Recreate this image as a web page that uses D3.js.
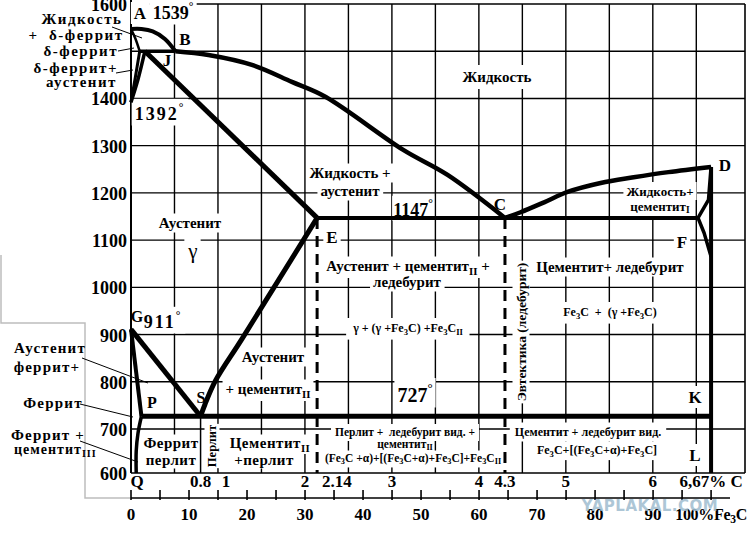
<!DOCTYPE html>
<html>
<head>
<meta charset="utf-8">
<script src="https://cdn.jsdelivr.net/npm/d3@7"></script>
<style>
  body { margin: 0; background: #fff; }
  svg { display: block; font-family: "Liberation Serif", "Times New Roman", serif; font-weight: bold; }
  text { white-space: pre; }
</style>
</head>
<body>
<svg id="graf" width="751" height="535"></svg>
<script>
// ---- Datos del diagrama ----
// ejes
const tempTicks = [600, 700, 800, 900, 1000, 1100, 1200, 1300, 1400, 1500, 1600]
const tempLabels = [600, 700, 800, 900, 1000, 1100, 1200, 1300, 1400, 1600]   // 1500 queda tapado
const carbonGrid = [0.5, 1, 1.5, 2, 2.5, 3, 3.5, 4, 4.5, 5, 5.5, 6, 6.5]
const carbonLabelValues = [0.07, 0.8, 1, 2, 2.14, 3, 4, 4.3, 5, 6, 6.67]
const carbonLabels = ['Q', '0.8', '1', '2', '2.14', '3', '4', '4.3', '5', '6', '6,67% C']
const fe3cTicks = [0, 5, 10, 15, 20, 25, 30, 35, 40, 45, 50, 55, 60, 65, 70, 75, 80, 85, 90, 95, 100]
const fe3cLabels = [0, 10, 20, 30, 40, 50, 60, 70, 80, 90]

// lineas de fase  [%C, T]
const liquidusAB  = [[0, 1547], [0.12, 1547], [0.25, 1542], [0.39, 1526], [0.51, 1500]]
const solidusAH   = [[0, 1547], [0.05, 1527], [0.1, 1500]]
const peritectHB  = [[0.1, 1500], [0.51, 1500]]
const lineNH      = [[0, 1392], [0.05, 1445], [0.1, 1500]]
const lineNJ      = [[0, 1392], [0.08, 1440], [0.16, 1500]]
const liquidusBC  = [[0.51, 1500], [0.89, 1492], [1.39, 1471], [1.85, 1435], [2.24, 1403], [3.13, 1291], [3.64, 1238], [4.3, 1147]]
const liquidusCD  = [[4.3, 1147], [4.48, 1159], [4.75, 1180], [5.02, 1202], [5.4, 1221], [5.78, 1233], [6.18, 1244], [6.67, 1255]]
const solidusJE   = [[0.16, 1500], [2.14, 1147]]
const eutecticECF = [[2.14, 1147], [6.52, 1147]]
const lineDF      = [[6.67, 1255], [6.64, 1185], [6.52, 1147], [6.59, 1115], [6.67, 1065]]
const cementiteDL = [[6.67, 1255], [6.67, 600]]
const lineES      = [[2.14, 1147], [1.28, 892], [0.97, 802], [0.85, 752], [0.8, 727]]
const lineGS      = [[0, 911], [0.8, 727]]
const lineGP      = [[0, 911], [0.12, 727]]
const linePQ      = [[0.12, 727], [0.08, 690], [0.06, 650], [0.06, 600]]
const eutectPSK   = [[0.12, 727], [6.67, 727]]
const dashedE     = [[2.14, 1147], [2.14, 600]]
const dashedC     = [[4.3, 1147], [4.3, 600]]
const perlitLine  = [[0.8, 727], [0.8, 600]]

// ---- Escalas ----
const svg = d3.select('#graf')
const x = d3.scaleLinear().domain([0, 7.06]).range([131, 745])
const y = d3.scaleLinear().domain([600, 700, 1600]).range([473, 429, 4])
const xFe = d3.scaleLinear().domain([0, 100]).range([x(0), x(6.67)])

// capas
const gGrid  = svg.append('g')
const gBg    = svg.append('g')
const gLines = svg.append('g')
const gText  = svg.append('g')

// ---- Rejilla ----
gGrid.selectAll('line.v').data(carbonGrid).enter().append('line')
  .attr('x1', d => x(d)).attr('x2', d => x(d))
  .attr('y1', y(1600)).attr('y2', y(600))
  .attr('stroke', '#000').attr('stroke-width', 1.4)
gGrid.selectAll('line.h').data(tempTicks).enter().append('line')
  .attr('x1', x(0)).attr('x2', x(7.06))
  .attr('y1', d => y(d)).attr('y2', d => y(d))
  .attr('stroke', '#000').attr('stroke-width', 1.4)
gGrid.append('line').attr('x1', x(7.06)).attr('x2', x(7.06)).attr('y1', y(1600)).attr('y2', y(600))
  .attr('stroke', '#000').attr('stroke-width', 1.6)
gGrid.append('line').attr('x1', x(0)).attr('x2', x(0)).attr('y1', 0).attr('y2', y(600))
  .attr('stroke', '#000').attr('stroke-width', 2)

// marco gris de la izquierda
gGrid.append('path')
  .attr('d', 'M1,255 L1,323 L85,323 L85,498 L131,498')
  .attr('fill', 'none').attr('stroke', '#bdbdbd').attr('stroke-width', 1.5)

// etiquetas del eje de temperatura
svg.selectAll('text.ty').data(tempLabels).enter().append('text')
  .attr('x', 127).attr('y', d => y(d) + 1)
  .attr('text-anchor', 'end').attr('dominant-baseline', 'central')
  .attr('font-size', 18)
  .text(d => d)

// ---- Lineas ----
const line = d3.line().x(d => x(d[0])).y(d => y(d[1]))
const curve = d3.line().x(d => x(d[0])).y(d => y(d[1])).curve(d3.curveCatmullRom)

function draw(data, w, smooth, dash) {
  gLines.append('path').datum(data)
    .attr('d', smooth ? curve : line)
    .attr('fill', 'none').attr('stroke', '#000')
    .attr('stroke-width', w)
    .attr('stroke-linejoin', 'round')
    .attr('stroke-dasharray', dash || null)
}
draw(liquidusAB, 4, true)
draw(solidusAH, 2.5, true)
draw(peritectHB, 3.5)
draw(lineNH, 3, true)
draw(lineNJ, 3.5, true)
draw(liquidusBC, 4.5, true)
draw(liquidusCD, 4.5, true)
draw(solidusJE, 5)
draw(eutecticECF, 4)
draw(lineDF, 3.5)
draw(cementiteDL, 4)
draw(lineES, 5, true)
draw(lineGS, 5)
draw(lineGP, 4)
draw(linePQ, 3.5, true)
draw(eutectPSK, 5)
draw(dashedE, 3, false, '11,7')
draw(dashedC, 3, false, '11,7')
draw(perlitLine, 1.5)

// ---- Textos ----
function rich(t, str, size) {
  const parts = str.split(/(_\{[^}]*\}|\^\{[^}]*\})/).filter(s => s.length)
  let shift = 0
  parts.forEach(p => {
    let dy = 0, fs = size, s = p
    if (p.startsWith('_{')) { s = p.slice(2, -1); fs = size * 0.72; dy = size * 0.3 }
    else if (p.startsWith('^{')) { s = p.slice(2, -1); fs = size * 0.65; dy = -size * 0.4 }
    t.append('tspan').attr('font-size', fs).attr('dy', dy - shift).text(s)
    shift = dy
  })
}

function note(px, py, str, o) {
  o = o || {}
  const size = o.size || 15
  const tr = `translate(${px},${py}) rotate(${o.rot || 0})`
  const g = gText.append('g').attr('transform', tr)
  const t = g.append('text')
    .attr('text-anchor', o.anchor || 'middle')
    .attr('dominant-baseline', 'central')
    .attr('font-size', size)
    .attr('letter-spacing', o.ls || 0)
    .attr('font-weight', o.weight || 'bold')
  rich(t, str, size)
  if (o.bg !== false) {
    const b = t.node().getBBox()
    const pad = o.pad == null ? 3 : o.pad
    gBg.append('rect').attr('transform', tr)
      .attr('x', b.x - pad).attr('y', b.y - pad / 2)
      .attr('width', b.width + pad * 2).attr('height', b.height + pad)
      .attr('fill', '#fff')
  }
}

function leader(x1, y1, x2, y2) {
  gLines.append('line').attr('x1', x1).attr('y1', y1).attr('x2', x2).attr('y2', y2)
    .attr('stroke', '#000').attr('stroke-width', 1)
}

// zona superior izquierda
note(140, 13, 'A', { size: 17 })
note(173, 13, '1539^{°}', { size: 18 })
note(185, 39, 'B', { size: 17, pad: 1 })
note(167, 60, 'J', { size: 17, pad: 1 })
note(160, 114, '1392^{°}', { size: 18, ls: 2 })
note(82, 19, 'Жидкость', { size: 15, ls: 1.5, bg: false })
note(76, 35, '+  δ-феррит', { size: 15, ls: 1.5, bg: false })
note(118, 51, 'δ-феррит', { size: 15, ls: 1.5, anchor: 'end', bg: false })
note(118, 68, 'δ-феррит+', { size: 15, ls: 1.5, anchor: 'end', bg: false })
note(117, 82, 'аустенит', { size: 15, ls: 1.5, anchor: 'end', bg: false })
leader(112, 27, 142, 38)
leader(118, 51, 134, 48)
leader(116, 73, 133, 70)

// liquido
note(497, 77, 'Жидкость', { size: 15, pad: 8 })
note(350, 173, 'Жидкость +', { size: 15 })
note(350, 191, 'аустенит', { size: 15 })
note(413, 210, '1147^{°}', { size: 18, pad: 1 })
note(500, 204, 'C', { size: 17, pad: 1 })
note(332, 237, 'E', { size: 17 })

// austenita
note(190, 223, 'Аустенит', { size: 15 })
note(193, 251, 'γ', { size: 21, weight: 'normal' })
note(408, 266, 'Аустенит + цементит_{II} +', { size: 15 })
note(407, 282, 'ледебурит', { size: 15 })
note(408, 328, 'γ + (γ +Fe_{3}C) +Fe_{3}C_{II}', { size: 12, pad: 6 })
note(521, 332, 'Эвтектика (ледебурит)', { size: 13.5, rot: -90, pad: 2 })

// cementita
note(610, 267, 'Цементит+ ледебурит', { size: 15 })
note(610, 312, 'Fe_{3}C  +  (γ +Fe_{3}C)', { size: 12, pad: 6 })
note(660, 191, 'Жидкость+', { size: 13 })
note(660, 206, 'цементит_{I}', { size: 13 })
note(725, 165, 'D', { size: 17, bg: false })
note(682, 242, 'F', { size: 17 })

// zona eutectoide
note(137, 316, 'G', { size: 16, bg: false })
note(163, 322, '911^{°}', { size: 18, ls: 2 })
note(273, 357, 'Аустенит', { size: 15 })
note(268, 389, '+ цементит_{II}', { size: 15 })
note(201, 397, 'S', { size: 16, pad: 1 })
note(152, 402, 'P', { size: 16, pad: 1 })
note(415, 395, '727^{°}', { size: 20 })
note(695, 397, 'K', { size: 17 })
note(695, 455, 'L', { size: 17 })

// abajo de 727
note(171, 443, 'Феррит', { size: 15, ls: 0.5, pad: 1 })
note(171, 460, 'перлит', { size: 15, ls: 0.5, pad: 1 })
note(212, 446, 'Перлит', { size: 12.5, rot: -90, pad: 1 })
note(270, 443, 'Цементит_{II}', { size: 15, ls: 0.5, pad: 1 })
note(264, 460, '+перлит', { size: 15, ls: 0.5, pad: 1 })
note(405, 432, 'Перлит +  ледебурит вид. +', { size: 11.5, pad: 4 })
note(405, 444, 'цементит_{II}', { size: 11.5, pad: 1 })
note(413, 458, '(Fe_{3}C +α)+[(Fe_{3}C+α)+Fe_{3}C]+Fe_{3}C_{II}', { size: 11.5, pad: 3 })
note(588, 432, 'Цементит + ледебурит вид.', { size: 12, pad: 5 })
note(597, 450, 'Fe_{3}C+[(Fe_{3}C+α)+Fe_{3}C]', { size: 12, pad: 3 })

// anotaciones de la izquierda abajo
note(50, 348, 'Аустенит', { size: 15, ls: 1.2, bg: false })
note(47, 367, 'феррит+', { size: 15, ls: 1.2, bg: false })
note(53, 403, 'Феррит', { size: 15, ls: 1.2, bg: false })
note(48, 435, 'Феррит +', { size: 15, ls: 1.2, bg: false })
note(14, 449, 'цементит_{III}', { size: 14, ls: 1, anchor: 'start', bg: false })
leader(82, 358, 148, 383)
leader(80, 404, 133, 417)
leader(80, 441, 138, 462)

// ---- Eje de %C (debajo de la grafica) ----
carbonLabelValues.forEach((v, i) => {
  let px = x(v), anchor = 'middle'
  if (carbonLabels[i] === '1') px += 8
  if (carbonLabels[i] === '2.14') { px += 5; anchor = 'start' }
  note(px, 481, carbonLabels[i], { size: 17, anchor: anchor, bg: false })
})

// ---- Eje de %Fe3C ----
const axisY = 498
gLines.append('line').attr('x1', xFe(0)).attr('x2', 730)
  .attr('y1', axisY).attr('y2', axisY).attr('stroke', '#000').attr('stroke-width', 1.6)
gLines.selectAll('line.tk').data(fe3cTicks).enter().append('line')
  .attr('x1', d => xFe(d)).attr('x2', d => xFe(d))
  .attr('y1', axisY - 8).attr('y2', axisY + 2)
  .attr('stroke', '#000').attr('stroke-width', 1.6)
fe3cLabels.forEach(v => note(xFe(v), 514, String(v), { size: 17, bg: false }))
note(747, 514, '100%Fe_{3}C', { size: 16, anchor: 'end', ls: -0.3, bg: false })

// marca de agua
svg.append('text').attr('x', 650).attr('y', 511)
  .attr('text-anchor', 'middle')
  .attr('font-family', 'DejaVu Sans, sans-serif')
  .attr('font-size', 15).attr('letter-spacing', 0.5)
  .attr('fill', '#9fbdd0').attr('opacity', 0.85)
  .text('YAPLAKAL.COM')
</script>
</body>
</html>
